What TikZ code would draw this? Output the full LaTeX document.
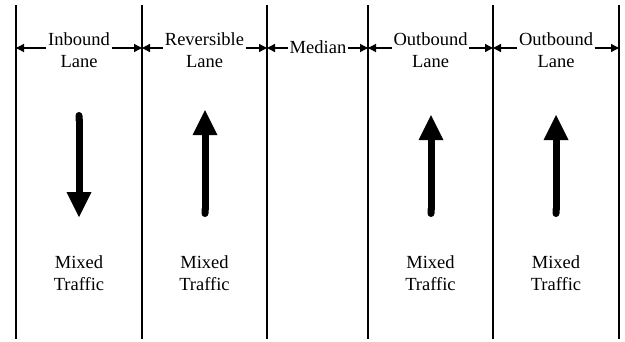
\documentclass[tikz,border=0pt]{standalone}
\usepackage{fontspec}
\setmainfont{Liberation Serif}
\usetikzlibrary{arrows.meta}
\begin{document}
\begin{tikzpicture}[x=1pt,y=-1pt,
  laneline/.style={line width=2.7pt},
  dimarrow/.style={line width=1.3pt,-{Triangle[length=8pt,width=8pt]}},
  lbl/.style={font=\fontsize{18.5}{22}\selectfont,align=center,inner sep=1.5pt,anchor=north},
  traffic/.style={line width=7pt,{Round Cap[]}-{Triangle[length=25pt,width=25pt,sharp,line width=0pt]}},
  mixed/.style={font=\fontsize{18.5}{22}\selectfont,align=center,inner sep=0pt,anchor=north}]
\useasboundingbox (0,0) rectangle (625,341);
% lane lines
\foreach \i/\x in {0/16,1/142,2/267,3/368,4/493,5/619}{
  \coordinate (t\i) at (\x,5);
  \coordinate (b\i) at (\x,339);
  \coordinate (m\i) at (\x,48);
}
\foreach \i in {0,...,5}{\draw[laneline] (t\i) -- (b\i);}
% header labels
\node[lbl] (l1) at (79,30.5) {Inbound\\Lane};
\node[lbl] (l2) at (204.5,30.5) {Reversible\\Lane};
\node[lbl,anchor=center] (l3) at (318,47.5) {Median};
\node[lbl] (l4) at (430.5,30.5) {Outbound\\Lane};
\node[lbl] (l5) at (556,30.5) {Outbound\\Lane};
\draw[dimarrow] (l1.west |- m0) -- (m0);
\draw[dimarrow] (l1.east |- m1) -- (m1);
\draw[dimarrow] (l2.west |- m1) -- (m1);
\draw[dimarrow] (l2.east |- m2) -- (m2);
\draw[dimarrow] (l3.west |- m2) -- (m2);
\draw[dimarrow] (l3.east |- m3) -- (m3);
\draw[dimarrow] (l4.west |- m3) -- (m3);
\draw[dimarrow] (l4.east |- m4) -- (m4);
\draw[dimarrow] (l5.west |- m4) -- (m4);
\draw[dimarrow] (l5.east |- m5) -- (m5);
% traffic arrows
\coordinate (a1s) at (79,112); \coordinate (a1e) at (79,217);
\coordinate (a2s) at (205,217); \coordinate (a2e) at (205,110);
\coordinate (a3s) at (431,217); \coordinate (a3e) at (431,115);
\coordinate (a4s) at (556,217); \coordinate (a4e) at (556,115);
\draw[traffic] (a1s) -- (a1e);
\draw[traffic] (a2s) -- (a2e);
\draw[traffic] (a3s) -- (a3e);
\draw[traffic] (a4s) -- (a4e);
% mixed traffic labels
\node[mixed] (x1) at (79,255.5) {Mixed\\Traffic};
\node[mixed] (x2) at (204.5,255.5) {Mixed\\Traffic};
\node[mixed] (x4) at (430.5,255.5) {Mixed\\Traffic};
\node[mixed] (x5) at (556,255.5) {Mixed\\Traffic};
\end{tikzpicture}
\end{document}
